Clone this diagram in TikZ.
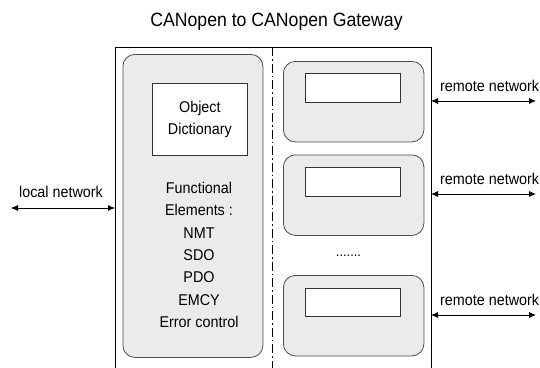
\documentclass[tikz,border=0pt]{standalone}
\usepackage{fontspec}
\setmainfont[FakeStretch=0.92]{Liberation Sans}
\usetikzlibrary{arrows.meta}
\begin{document}
\begin{tikzpicture}[x=1pt,y=-1pt,
  lbl/.style={font=\fontsize{15.6}{22.3}\selectfont, inner sep=0pt},
  grey box/.style={draw=black!70, fill=black!8, rounded corners=12pt, line width=0.8pt},
  white box/.style={draw=black!80, fill=white, line width=0.8pt},
  net/.style={{Latex[length=7pt,width=6pt]}-{Latex[length=7pt,width=6pt]}, line width=0.8pt}]
\useasboundingbox (0,0) rectangle (540,367);
% title
\node[font=\fontsize{19.2}{22}\selectfont, inner sep=0pt] (title) at (276.5,22) {CANopen to CANopen Gateway};
% outer box (open at bottom)
\draw[line width=0.8pt] (115,370) -- (115,47) -- (431,47) -- (431,370);
\coordinate (ol) at (115,208);
% dash-dot separator
\draw[line width=0.8pt, dash pattern=on 9pt off 3pt on 1.5pt off 3pt] (272.5,47) -- (272.5,370);
% left grey box
\node[grey box, minimum width=140pt, minimum height=303pt, anchor=north west] (lbox) at (122.5,54) {};
\node[white box, minimum width=95pt, minimum height=72pt, anchor=north west] (od) at (152,83) {};
\node[lbl, align=center] (odt) at (od.center) {Object\\Dictionary};
\node[lbl, align=center, anchor=north] (fe) at (199,182) {Functional\\Elements :\\NMT\\SDO\\PDO\\EMCY\\Error control};
% right grey boxes
\foreach \i/\yt/\yw in {1/61/73, 2/154.5/167, 3/275/287.5} {
  \node[grey box, minimum width=140.5pt, minimum height=80.5pt, anchor=north west] (rb\i) at (283,\yt) {};
  \node[white box, minimum width=95pt, minimum height=28.5pt, anchor=north west] (rw\i) at (305,\yw) {};
}
\node[font=\fontsize{14}{16}\selectfont, inner sep=0pt] (dots) at (348.5,256) {.......};
% remote networks
\foreach \i/\y in {1/101, 2/194, 3/315} {
  \coordinate (rs\i) at (431,\y);
  \coordinate (re\i) at (536,\y);
  \draw[net] (rs\i) -- (re\i);
  \node[lbl, anchor=base west] (rl\i) at (440,\y-10) {remote network};
}
% local network
\coordinate (ls) at (11,208);
\draw[net] (ls) -- (ol);
\node[lbl, anchor=base] (ll) at (61,197) {local network};
\end{tikzpicture}
\end{document}
